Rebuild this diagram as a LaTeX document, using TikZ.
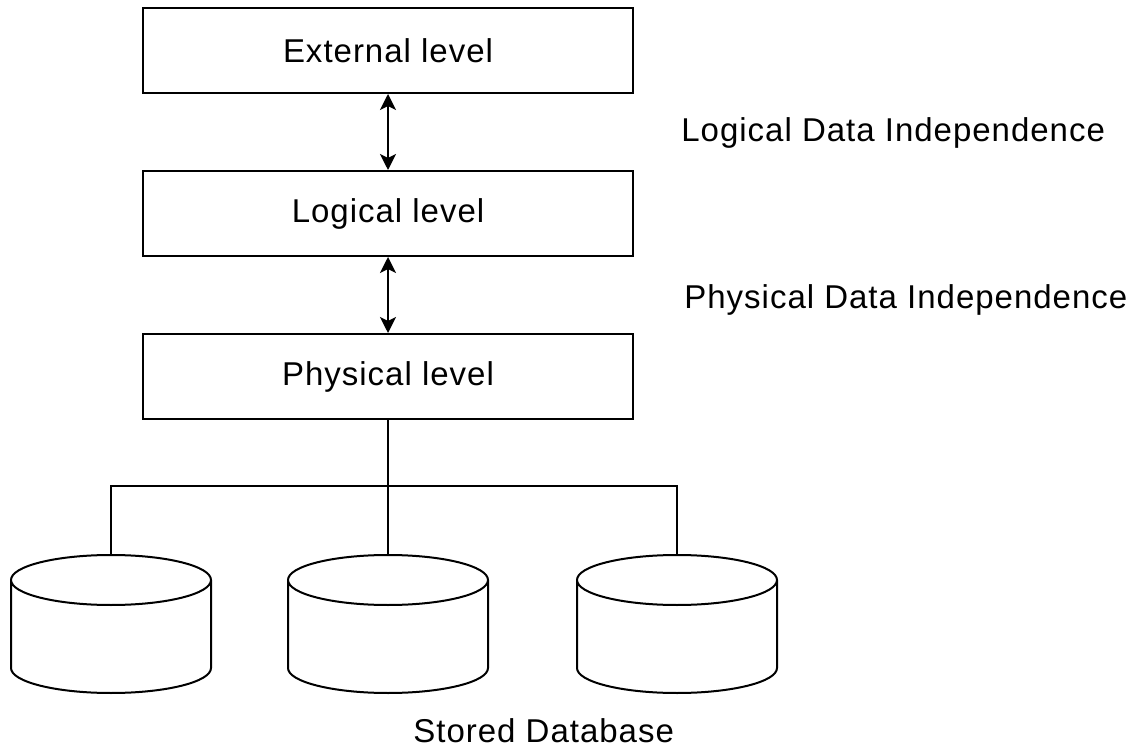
\documentclass[tikz,border=0pt]{standalone}
\usepackage{fontspec}
\setmainfont{Liberation Sans}[LetterSpace=3]
\usetikzlibrary{shapes.geometric,arrows.meta}

\begin{document}
\begin{tikzpicture}[
  x=0.5pt, y=-0.5pt,
  level/.style={draw, line width=1pt, minimum width=245pt, minimum height=42.5pt,
                inner sep=0pt, font=\fontsize{16.5}{19}\selectfont},
  store/.style={draw, line width=1pt, shape=cylinder, shape border rotate=90, aspect=0.25,
                minimum height=69pt, inner sep=0pt, anchor=north},
  caption/.style={anchor=west, inner sep=0pt, font=\fontsize{16.5}{19}\selectfont},
  arrow/.style={{Stealth[length=8pt,width=8pt,inset=2pt]}-{Stealth[length=8pt,width=8pt,inset=2pt]}, line width=1pt},
  wire/.style={line width=0.8pt},
]
\useasboundingbox (0,0) rectangle (1140,748);

% Three levels
\node[level] (ext) at (388, 50.5) {External level};
\node[level] (log) at (388, 213.5) {Logical level};
\node[level] (phy) at (388, 376.5) {Physical level};

% Independence arrows
\draw[arrow] (ext.south) -- (log.north);
\draw[arrow] (log.south) -- (phy.north);
\node[caption] (ldi) at (681, 133) {Logical Data Independence};
\node[caption] (pdi) at (684, 300) {Physical Data Independence};

% Stored database
\node[store] (db1) at (111, 554) {\rule{100pt}{0pt}};
\node[store] (db2) at (388, 554) {\rule{100pt}{0pt}};
\node[store] (db3) at (677, 554) {\rule{100pt}{0pt}};
\coordinate (bus) at (388, 486);
\draw[wire] (phy.south) -- (db2.north);
\draw[wire] (db1.north) -- (db1.north |- bus) -- (db3.north |- bus) -- (db3.north);
\node[caption] (sdb) at (413, 731) {Stored Database};

\end{tikzpicture}
\end{document}
